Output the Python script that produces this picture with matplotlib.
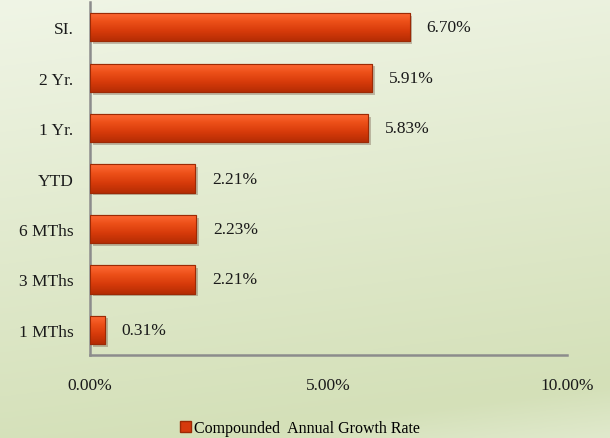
import matplotlib.pyplot as plt
import matplotlib.patheffects as pe
import numpy as np
from matplotlib.colors import LinearSegmentedColormap

categories = ["1 MThs", "3 MThs", "6 MThs", "YTD", "1 Yr.", "2 Yr.", "SI."]
values = [0.31, 2.21, 2.23, 2.21, 5.83, 5.91, 6.70]
xticks = [0, 5, 10]
legend_label = "Compounded  Annual Growth Rate"

plt.rcParams['font.family'] = ['Liberation Serif', 'DejaVu Serif']

fig = plt.figure(figsize=(6.1, 4.39), dpi=100)

# background gradient
bg = fig.add_axes([0, 0, 1, 1], zorder=0)
yy, xx = np.mgrid[0:1:200j, 0:1:200j]
top = np.array([240, 245, 230]) / 255
mid = np.array([212, 224, 184]) / 255
bot = np.array([224, 233, 204]) / 255
t = np.clip(yy * 0.85 + xx * 0.15, 0, 1)
img = np.zeros((200, 200, 3))
for c in range(3):
    a = np.where(t < 0.9, top[c] + (mid[c] - top[c]) * t / 0.9,
                 mid[c] + (bot[c] - mid[c]) * (t - 0.9) / 0.1)
    img[:, :, c] = a
bg.imshow(img, aspect='auto', extent=[0, 1, 0, 1], origin='upper')
bg.axis('off')

ax = fig.add_axes([0.1475, 0.189, 0.782, 0.804], zorder=1)
ax.patch.set_alpha(0)

y = np.arange(len(categories))
bars = ax.barh(y, values, height=0.56, color='#d63a0c', edgecolor='#9c2a05',
               linewidth=0.8, zorder=3,
               path_effects=[pe.SimplePatchShadow(offset=(2, -2), alpha=0.25), pe.Normal()])

cmap = LinearSegmentedColormap.from_list('bar', ['#b52d04', '#d63a0a', '#ec4f18', '#ff6a35'])
grad = np.linspace(0, 1, 50).reshape(-1, 1)
for b in bars:
    x0, y0, w, h = b.get_x(), b.get_y(), b.get_width(), b.get_height()
    im = ax.imshow(grad, cmap=cmap, aspect='auto', origin='lower',
                   extent=[x0, x0 + w, y0, y0 + h], zorder=4)
    im.set_clip_path(b)
    ax.add_patch(plt.Rectangle((x0, y0), w, h, fill=False, edgecolor='#9c2a05',
                               linewidth=0.8, zorder=5))

for yi, v in zip(y, values):
    ax.annotate(f"{v:.2f}%", (v, yi), xytext=(12, 0), textcoords='offset points',
                va='center', ha='left', fontsize=12.5, color='#1a1a1a')

ax.set_xlim(0, 10)
ax.set_ylim(-0.5, len(categories) - 0.5)
ax.set_xticks(xticks)
ax.set_xticklabels([f"{v:.2f}%" for v in xticks], fontsize=12.5, color='#1a1a1a')
ax.set_yticks(y)
ax.set_yticklabels(categories, fontsize=12.5, color='#1a1a1a')
ax.tick_params(axis='both', length=0)
ax.tick_params(axis='x', pad=16)
ax.tick_params(axis='y', pad=12)
for s in ['top', 'right']:
    ax.spines[s].set_visible(False)
for s in ['left', 'bottom']:
    ax.spines[s].set_color('#8c8c8c')
    ax.spines[s].set_linewidth(1.8)

handle = plt.Rectangle((0, 0), 1, 1, facecolor='#d63a0c', edgecolor='#9c2a05')
fig.legend([handle], [legend_label], loc='center', bbox_to_anchor=(0.492, 0.022),
           frameon=False, fontsize=11.5, handlelength=0.7, handleheight=0.7,
           handletextpad=0.2, borderaxespad=0)

fig.savefig("out.png", dpi=100)
